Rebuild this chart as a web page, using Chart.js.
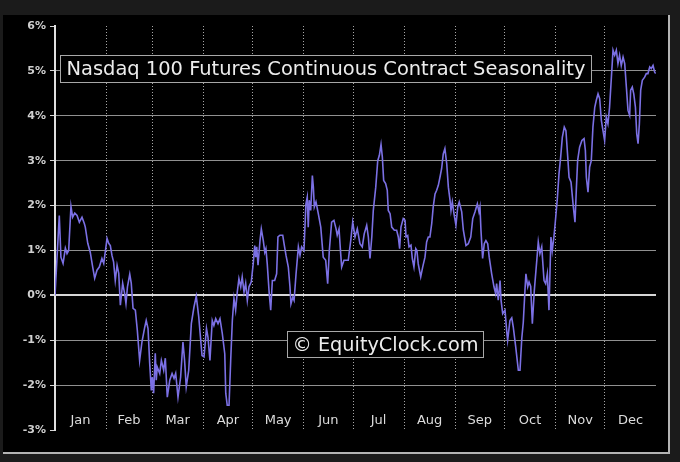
<!DOCTYPE html>
<html lang="en">
<head>
<meta charset="UTF-8" />
<title>Nasdaq 100 Futures Continuous Contract Seasonality</title>
<script src="https://cdn.jsdelivr.net/npm/chart.js"></script>
<style>
  html, body { margin: 0; padding: 0; background: #1b1b1b; overflow: hidden; }
  #wrap { width: 680px; height: 462px; position: relative; }
</style>
</head>
<body>
<div id="wrap"><canvas id="seasonChart"></canvas></div>
<script>
const chartTitle = 'Nasdaq 100 Futures Continuous Contract Seasonality';
const watermark = '\u00A9 EquityClock.com';
const monthLabels = ['Jan','Feb','Mar','Apr','May','Jun','Jul','Aug','Sep','Oct','Nov','Dec'];
const monthStarts = [0, 31, 59, 90, 120, 151, 181, 212, 243, 273, 304, 334, 365];

// day of year / average seasonal return (%)
const dayOfYear = [
  0, 2.6, 3.6, 4.9, 6.3, 7.3, 8.3, 9.7, 10.7, 12.0, 13.4, 14.8, 16.4, 17.8, 18.4, 19.9, 21.4, 22.9, 24.1, 25.5,
  26.9, 28.5, 29.6, 30.5, 31.6, 32.6, 33.6, 34.6, 35.6, 36.6, 37.7, 38.7, 39.7, 41.1, 42.3, 43.1, 44.0, 45.4, 46.3, 47.4,
  48.8, 50.0, 51.4, 52.8, 54.5, 55.4, 56.5, 57.5, 58.5, 59.1, 59.9, 60.9, 61.5, 62.1, 63.6, 64.6, 66.0, 67.0, 68.2, 69.7,
  71.1, 72.3, 73.3, 74.7, 76.3, 77.7, 78.7, 79.7, 81.2, 82.8, 84.4, 85.8, 87.3, 88.5, 89.3, 90.5, 92.0, 92.9, 94.1, 95.5,
  96.5, 97.6, 99.0, 100.2, 101.6, 103.1, 103.7, 104.6, 105.7, 106.7, 107.7, 108.7, 109.7, 110.7, 111.7, 112.8, 113.7, 114.8, 115.8, 116.8,
  117.8, 119.2, 120.4, 121.3, 121.9, 122.5, 123.3, 124.5, 125.3, 126.5, 127.4, 128.1, 128.9, 130.1, 131.0, 132.0, 133.4, 134.6, 135.4, 136.6,
  138.3, 139.1, 140.3, 141.7, 142.7, 143.3, 144.4, 145.2, 146.4, 147.8, 148.8, 149.8, 151.2, 152.4, 153.2, 153.8, 154.4, 155.3, 156.3, 156.9,
  157.5, 158.5, 159.9, 161.4, 162.9, 164.4, 165.6, 166.6, 168.0, 169.4, 170.7, 171.4, 172.5, 173.5, 174.1, 175.5, 178.1, 179.6, 180.8, 182.2,
  183.6, 185.2, 186.6, 187.8, 189.3, 190.3, 191.3, 192.4, 193.3, 194.8, 196.0, 197.0, 198.0, 198.8, 199.6, 200.8, 201.8, 202.4, 203.5, 204.5,
  206.1, 207.5, 208.5, 209.3, 210.1, 211.5, 212.6, 213.2, 214.2, 215.0, 216.2, 217.0, 218.0, 219.1, 219.8, 220.6, 222.1, 223.3, 224.7, 225.7,
  226.7, 227.7, 228.8, 229.7, 230.8, 231.8, 232.8, 233.8, 234.8, 235.8, 236.8, 237.9, 238.9, 239.9, 240.5, 241.3, 242.3, 243.5, 244.6, 245.5,
  247.0, 248.0, 249.6, 251.0, 252.5, 253.7, 255.1, 256.5, 257.5, 258.1, 258.7, 259.7, 260.7, 261.7, 262.8, 263.7, 265.2, 266.6, 267.6, 268.2,
  269.2, 270.3, 270.9, 271.9, 273.3, 274.3, 274.9, 276.3, 277.4, 278.3, 279.8, 281.4, 282.4, 283.5, 284.4, 285.4, 286.0, 287.1, 287.9, 288.9,
  289.9, 291.1, 292.6, 293.5, 294.5, 295.6, 297.0, 298.0, 299.0, 300.0, 301.2, 302.0, 303.0, 304.1, 305.0, 306.1, 307.1, 308.1, 309.3, 310.3,
  311.4, 312.2, 313.4, 314.8, 315.8, 316.6, 317.4, 318.6, 320.0, 321.3, 322.1, 322.7, 323.7, 324.7, 325.7, 326.7, 327.8, 328.7, 329.8, 330.8,
  331.8, 332.8, 333.8, 334.8, 335.8, 336.8, 337.8, 338.9, 339.9, 340.9, 341.9, 342.9, 343.9, 345.0, 346.0, 347.0, 348.0, 349.0, 349.6, 350.6,
  351.5, 352.5, 353.3, 354.1, 354.9, 355.7, 356.7, 358.1, 359.1, 360.1, 361.2, 362.1, 363.2, 364.2, 364.8
];
const avgReturn = [
  0.00, 1.78, 0.85, 0.71, 1.05, 0.93, 1.00, 1.98, 1.74, 1.83, 1.78, 1.63, 1.74, 1.60, 1.52, 1.16, 0.96, 0.63, 0.38, 0.56,
  0.63, 0.82, 0.71, 0.96, 1.27, 1.16, 1.11, 0.89, 0.74, 0.33, 0.67, 0.49, -0.22, 0.27, 0.04, -0.18, 0.19, 0.47, 0.27, -0.29,
  -0.33, -0.78, -1.45, -1.04, -0.71, -0.56, -0.74, -1.51, -2.12, -1.82, -2.18, -1.29, -1.89, -1.60, -1.74, -1.45, -1.67, -1.40, -2.27, -1.89,
  -1.74, -1.85, -1.74, -2.27, -1.82, -1.04, -1.45, -2.04, -1.67, -0.63, -0.26, -0.02, -0.48, -1.00, -1.34, -1.37, -0.74, -0.93, -1.45, -0.56,
  -0.67, -0.52, -0.63, -0.52, -0.85, -1.30, -2.18, -2.45, -2.45, -1.45, -0.56, -0.07, -0.33, 0.07, 0.37, 0.19, 0.41, 0.07, 0.27, -0.11,
  0.19, 0.30, 0.71, 1.11, 0.85, 1.08, 0.67, 1.22, 1.48, 1.22, 0.96, 1.04, 0.70, 0.04, -0.33, 0.33, 0.33, 0.48, 1.30, 1.34,
  1.34, 1.15, 0.89, 0.63, 0.19, -0.19, -0.04, -0.11, 0.48, 1.08, 0.89, 1.08, 1.00, 2.04, 2.19, 1.52, 2.12, 1.89, 2.67, 2.41,
  1.97, 2.08, 1.82, 1.52, 0.85, 0.78, 0.26, 1.00, 1.63, 1.67, 1.48, 1.34, 1.48, 0.93, 0.63, 0.78, 0.78, 1.22, 1.63, 1.30,
  1.48, 1.15, 1.08, 1.37, 1.56, 1.30, 0.82, 1.30, 1.89, 2.41, 3.00, 3.12, 3.36, 3.08, 2.56, 2.49, 2.34, 1.89, 1.82, 1.52,
  1.45, 1.45, 1.30, 1.04, 1.52, 1.71, 1.67, 1.30, 1.33, 1.08, 1.12, 0.82, 0.63, 1.04, 1.00, 0.70, 0.41, 0.63, 0.85, 1.19,
  1.30, 1.30, 1.60, 1.97, 2.26, 2.34, 2.45, 2.63, 2.82, 3.15, 3.27, 2.93, 2.41, 2.12, 1.89, 2.08, 1.82, 1.56, 1.97, 2.08,
  1.86, 1.45, 1.11, 1.15, 1.30, 1.71, 1.86, 2.04, 1.86, 1.97, 1.45, 0.82, 1.15, 1.22, 1.15, 0.85, 0.48, 0.19, 0.04, 0.26,
  -0.11, 0.33, -0.11, -0.41, -0.33, -0.78, -1.00, -0.56, -0.50, -0.70, -1.15, -1.67, -1.67, -0.95, -0.60, 0.10, 0.48, 0.19, 0.30, 0.20,
  -0.63, 0.11, 0.78, 1.19, 0.93, 1.08, 0.33, 0.26, 0.48, -0.33, 1.30, 1.00, 1.30, 1.74, 2.12, 2.71, 3.08, 3.52, 3.75, 3.67,
  3.08, 2.63, 2.52, 1.97, 1.63, 2.34, 3.00, 3.30, 3.45, 3.49, 3.23, 2.63, 2.30, 2.86, 3.00, 3.75, 4.19, 4.34, 4.49, 4.38,
  3.90, 3.67, 3.45, 3.97, 3.82, 4.19, 4.79, 5.46, 5.35, 5.46, 5.16, 5.35, 5.12, 5.31, 5.16, 4.64, 4.12, 4.01, 4.57, 4.64,
  4.49, 4.19, 3.60, 3.38, 3.82, 4.57, 4.79, 4.86, 4.94, 4.94, 5.09, 5.05, 5.12, 4.97, 4.94
];
const yMin = -3, yMax = 6;

const points = dayOfYear.map((d, i) => ({ x: d, y: avgReturn[i] }));
const monthMids = monthLabels.map((m, i) => (monthStarts[i] + monthStarts[i + 1]) / 2);

// dark frame + black panel behind the chart
const framePlugin = {
  id: 'frame',
  beforeDraw(chart) {
    const c = chart.ctx;
    c.save();
    c.fillStyle = '#1b1b1b';
    c.fillRect(0, 0, chart.width, chart.height);
    c.fillStyle = '#000';
    c.fillRect(3, 15, 665, 437);
    c.fillStyle = '#b4b4b4';
    c.fillRect(668, 15, 2, 439);
    c.fillRect(3, 452, 667, 2);
    c.restore();
  }
};

function boxedText(c, text, x, y, w, h, textW) {
  c.fillStyle = '#000';
  c.fillRect(x, y, w, h);
  c.strokeStyle = '#a8a8a8';
  c.lineWidth = 1;
  c.strokeRect(x + 0.5, y + 0.5, w - 1, h - 1);
  let size = 17;
  c.font = size + 'px "DejaVu Sans"';
  size = size * textW / c.measureText(text).width;
  c.font = size.toFixed(2) + 'px "DejaVu Sans"';
  c.fillStyle = '#ececec';
  c.textAlign = 'center';
  c.textBaseline = 'middle';
  c.fillText(text, x + w / 2, y + h / 2 + 1);
}

// month names sit inside the plot, just above the bottom edge
const monthPlugin = {
  id: 'months',
  afterDraw(chart) {
    const c = chart.ctx, xs = chart.scales.x;
    c.save();
    c.font = '13px "DejaVu Sans"';
    c.fillStyle = '#dcdcdc';
    c.textAlign = 'center';
    c.textBaseline = 'middle';
    monthMids.forEach((d, i) => {
      c.fillText(monthLabels[i], xs.getPixelForValue(d), chart.chartArea.bottom - 9);
    });
    c.restore();
  }
};

const labelsPlugin = {
  id: 'boxes',
  afterDatasetsDraw(chart) {
    const c = chart.ctx;
    c.save();
    boxedText(c, chartTitle, 60, 55, 532, 28, 519);
    boxedText(c, watermark, 287, 331, 197, 27, 186);
    c.restore();
  }
};

new Chart(document.getElementById('seasonChart'), {
  type: 'line',
  data: {
    datasets: [{
      label: 'Seasonality',
      data: points,
      borderColor: '#7b70e4',
      borderWidth: 1.6,
      pointRadius: 0,
      tension: 0,
      fill: false
    }]
  },
  options: {
    responsive: true,
    maintainAspectRatio: false,
    animation: false,
    devicePixelRatio: 1,
    layout: { padding: { left: 0, right: 24, top: 26, bottom: 32 } },
    plugins: { legend: { display: false }, tooltip: { enabled: false } },
    scales: {
      x: {
        type: 'linear', position: 'bottom', min: 0, max: 365,
        afterBuildTicks: s => { s.ticks = monthStarts.map(v => ({ value: v })); },
        afterFit: s => { s.height = 0; },
        ticks: { display: false },
        grid: {
          drawTicks: false,
          lineWidth: 1,
          color: ctx => (ctx.tick && (ctx.tick.value === 0 || ctx.tick.value === 365)) ? 'rgba(0,0,0,0)' : '#a6a6a6'
        },
        border: { display: false, dash: [1, 2] }
      },
      y: {
        min: yMin, max: yMax,
        afterFit: s => { s.width = 55; },
        ticks: {
          stepSize: 1,
          callback: v => v + '%',
          color: '#cfcfcf',
          font: { family: 'DejaVu Sans', size: 11, weight: 'bold' },
          padding: 4
        },
        grid: {
          lineWidth: ctx => (ctx.tick && ctx.tick.value === 0) ? 2 : 1,
          color: ctx => {
            const v = ctx.tick ? ctx.tick.value : null;
            if (v === yMin || v === yMax) return 'rgba(0,0,0,0)';
            return v === 0 ? '#d6d6d6' : '#909090';
          },
          drawTicks: true,
          tickLength: 5,
          tickColor: '#d6d6d6'
        },
        border: { color: '#e0e0e0', width: 2 }
      }
    }
  },
  plugins: [framePlugin, labelsPlugin, monthPlugin]
});
</script>
</body>
</html>
